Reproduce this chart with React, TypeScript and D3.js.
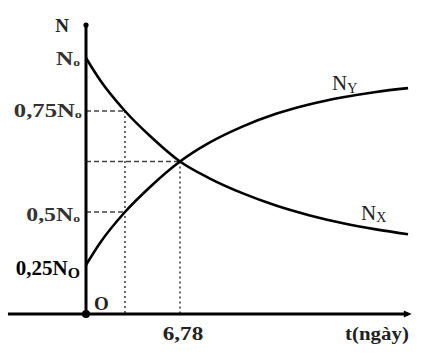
import React from "react";
import * as d3 from "d3";

// time axis (days)
const tValues = [0, 1.01, 2.81, 4.62, 6.78, 8.87, 11.32, 13.7, 16.08, 18.54, 20.92, 23.23];
// decaying amount N_X (fraction of N0, schematic)
const nxValues = [1.0, 0.896, 0.75, 0.688, 0.625, 0.584, 0.546, 0.516, 0.485, 0.447, 0.418, 0.395];
// growing amount N_Y (fraction of N0, schematic)
const nyValues = [0.25, 0.354, 0.5, 0.562, 0.625, 0.671, 0.712, 0.743, 0.781, 0.815, 0.84, 0.858];

const yTickValues = [1, 0.75, 0.5, 0.25];
const yTickLabels = ["N", "0,75N", "0,5N", "0,25N"];
const yTickSubs = ["o", "o", "o", "O"];

const tMarkA = 2.81; // vertical guide where N_X = 0.75N0 and N_Y = 0.5N0
const tCross = 6.78;
const nCross = 0.625;
const xTickLabel = "6,78";
const xAxisLabel = "t(ngày)";
const yAxisLabel = "N";

const W = 447;
const H = 361;
const FONT = "'Liberation Serif', 'Times New Roman', serif";

export default function App() {
  const x = d3.scaleLinear().domain([0, 23.37]).range([86, 410]);
  // schematic (non-proportional) vertical axis
  const y = d3.scaleLinear().domain([0, 0.25, 0.5, 0.75, 1]).range([314, 265, 212, 111, 58]);

  const line = d3
    .line<number>()
    .x((_, i) => x(tValues[i]))
    .y((d) => y(d))
    .curve(d3.curveMonotoneX);

  const x0 = x(0);
  const y0 = y(0);
  const axisLeft = x(-5.63);
  const axisRight = x(23.5);

  const labelRight = [80, 82, 80, 80];
  const labelBase = [65, 117, 221, 275];
  const labelScale = [1.25, 1.3, 1.25, 1.05];

  return (
    <svg
      width={W}
      height={H}
      style={{ position: "absolute", left: 0, top: 0, background: "#fff" }}
      fontFamily={FONT}
    >
      {/* dashed guides */}
      <g stroke="#444" strokeWidth={1.6} fill="none">
        <line x1={x0} x2={x(tMarkA)} y1={y(0.75)} y2={y(0.75)} strokeDasharray="5,3" />
        <line x1={x0} x2={x(tMarkA)} y1={y(0.5)} y2={y(0.5)} strokeDasharray="5,3" />
        <line x1={x0} x2={x(tCross)} y1={y(nCross)} y2={y(nCross)} strokeDasharray="5,3" />
        <line x1={x(tMarkA)} x2={x(tMarkA)} y1={y(0.75)} y2={y0} strokeDasharray="2,3" />
        <line x1={x(tCross)} x2={x(tCross)} y1={y(nCross)} y2={y0} strokeDasharray="2,3" />
      </g>

      {/* curves */}
      <path d={line(nxValues) || ""} fill="none" stroke="#000" strokeWidth={2.6} />
      <path d={line(nyValues) || ""} fill="none" stroke="#000" strokeWidth={2.6} />

      {/* axes */}
      <line x1={x0} x2={x0} y1={25} y2={y0} stroke="#000" strokeWidth={3} />
      <circle cx={x0} cy={25} r={2.6} fill="#000" />
      <line x1={axisLeft} x2={axisRight - 4} y1={y0} y2={y0} stroke="#000" strokeWidth={3} />
      <path
        d={`M${axisRight},${y0} L${axisRight - 8},${y0 - 3.5} L${axisRight - 8},${y0 + 3.5} Z`}
        fill="#000"
      />
      <circle cx={x0} cy={y0} r={4} fill="#000" />

      {/* y axis title */}
      <text x={62} y={32} fontSize={19} fontWeight="bold" textAnchor="middle" fill="#222">
        {yAxisLabel}
      </text>

      {/* y tick labels */}
      {yTickValues.map((v, i) => (
        <g key={v} transform={`translate(${labelRight[i]},${labelBase[i]}) scale(${labelScale[i]},1)`}>
          <text
            textAnchor="end"
            fontSize={i === 3 ? 20 : 19}
            fontWeight="bold"
            fill={i === 3 ? "#000" : "#333"}
          >
            {yTickLabels[i]}
            <tspan fontSize={i === 3 ? 15 : 11} dy={i === 3 ? 3 : 1}>
              {yTickSubs[i]}
            </tspan>
          </text>
        </g>
      ))}

      {/* origin */}
      <text x={94} y={310} fontSize={19} fontWeight="bold" fill="#222">
        O
      </text>

      {/* x tick label */}
      <g transform={`translate(${x(tCross) + 3},340) scale(1.22,1)`}>
        <text textAnchor="middle" fontSize={19} fontWeight="bold" fill="#222">
          {xTickLabel}
        </text>
      </g>
      <g transform={`translate(345,340) scale(1.1,1)`}>
        <text fontSize={19} fontWeight="bold" fill="#222">
          {xAxisLabel}
        </text>
      </g>

      {/* series labels */}
      <text x={332} y={90} fontSize={21} fill="#222">
        N
        <tspan fontSize={14} dy={3}>
          Y
        </tspan>
      </text>
      <text x={361} y={220} fontSize={21} fill="#222">
        N
        <tspan fontSize={14} dy={2}>
          X
        </tspan>
      </text>
    </svg>
  );
}
